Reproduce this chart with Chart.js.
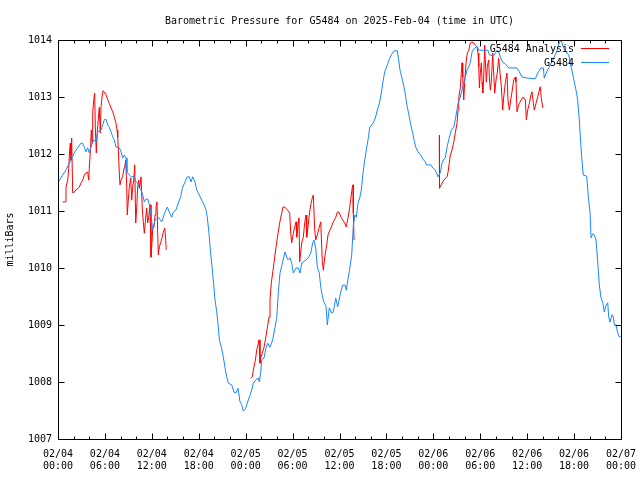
<!DOCTYPE html>
<html><head><meta charset="utf-8">
<script src="https://cdn.jsdelivr.net/npm/chart.js@4.4.1/dist/chart.umd.min.js"></script>
<style>html,body{margin:0;padding:0;background:#fff}#wrap{width:640px;height:480px}</style>
</head><body><div id="wrap"><canvas id="c" width="640" height="480"></canvas></div>
<script>
const chartTitle = 'Barometric Pressure for G5484 on 2025-Feb-04 (time in UTC)';
const yAxisTitle = 'milliBars';
const seriesNames = ['G5484 Analysis', 'G5484'];
const xTickLabels = [
  ['02/04','00:00'],['02/04','06:00'],['02/04','12:00'],['02/04','18:00'],
  ['02/05','00:00'],['02/05','06:00'],['02/05','12:00'],['02/05','18:00'],
  ['02/06','00:00'],['02/06','06:00'],['02/06','12:00'],['02/06','18:00'],
  ['02/07','00:00']
];
const xMin = 0, xMax = 72, xMajorStep = 6, xMinorStep = 2;
const yMin = 1007, yMax = 1014, yStep = 1;

// hours since 02/04 00:00 UTC ; null value = gap
const analysisHours = [
  0.60,0.93,1.02,1.24,1.37,1.45,1.57,1.66,1.75,1.88,2.08,2.30,2.52,2.72,2.94,3.16,3.36,3.58,3.80,3.93,
  4.00,4.13,4.26,4.35,4.44,4.57,4.69,4.77,4.90,5.03,5.15,5.28,5.41,5.50,5.63,5.76,5.92,6.14,6.36,6.56,
  6.78,7.00,7.20,7.42,7.55,7.64,7.76,7.84,7.93,8.06,8.27,8.40,8.53,8.66,8.79,8.86,8.99,9.12,9.30,9.43,
  9.55,9.68,9.81,9.94,10.07,10.19,10.32,10.45,10.62,10.78,10.91,11.04,11.17,11.34,11.47,11.60,11.77,11.89,12.02,12.11,
  12.28,12.41,12.53,12.66,12.75,12.83,12.96,13.13,13.30,13.47,13.65,13.77,13.85,
  19.00,
  24.64,24.85,24.98,25.16,25.28,25.41,25.58,25.71,25.83,25.92,26.13,26.35,26.56,26.77,26.99,27.11,27.28,27.50,27.71,27.92,
  28.14,28.35,28.56,28.78,28.99,29.33,29.63,29.76,29.89,30.09,30.27,30.44,30.53,30.69,30.82,30.91,31.04,31.17,31.37,31.55,
  31.72,31.81,31.97,32.10,32.32,32.52,32.65,32.83,32.96,33.16,33.38,33.60,33.80,33.93,34.11,34.36,34.53,34.79,34.95,35.21,
  35.52,35.72,35.94,36.23,36.67,36.87,37.09,37.31,37.51,37.64,37.73,37.77,37.86,
  43.00,
  48.76,48.79,49.11,49.33,49.62,49.75,49.88,50.04,50.17,50.39,50.61,50.81,51.03,51.16,51.25,51.45,51.58,51.67,51.76,51.89,
  52.01,52.09,52.22,52.35,52.53,52.73,52.86,53.17,53.37,53.59,53.72,53.81,53.89,54.01,54.14,54.23,54.32,54.44,54.57,54.65,
  54.78,54.90,55.08,55.16,55.29,55.41,55.59,55.72,55.85,56.02,56.18,56.36,56.53,56.70,56.87,57.00,57.21,57.42,57.55,57.72,
  57.90,58.06,58.28,58.49,58.57,58.70,58.83,59.00,59.25,59.47,59.77,59.89,60.07,60.28,60.49,60.62,60.79,60.92,61.13,61.35,
  61.55,61.68,61.81,61.99
];
const analysisValues = [
  1011.16,1011.16,1011.42,1011.54,1011.75,1011.98,1012.19,1011.89,1012.28,1011.32,1011.33,1011.37,1011.39,1011.42,1011.49,1011.54,1011.63,1011.67,1011.68,1011.54,
  1011.75,1012.02,1012.42,1012.19,1012.72,1012.95,1013.07,1012.47,1012.02,1012.42,1012.60,1012.82,1012.37,1012.82,1013.00,1013.11,1013.09,1013.04,1012.95,1012.89,
  1012.81,1012.74,1012.65,1012.54,1012.42,1012.30,1011.93,1011.67,1011.46,1011.54,1011.60,1011.72,1011.77,1011.89,1011.42,1010.93,1011.19,1011.42,1011.58,1011.19,
  1011.42,1011.54,1011.81,1010.79,1011.07,1011.42,1011.54,1011.40,1011.60,1011.05,1010.81,1010.61,1010.81,1011.05,1010.79,1010.88,1011.11,1010.19,1010.44,1010.70,
  1010.72,1010.93,1011.07,1011.16,1010.61,1010.23,1010.37,1010.44,1010.53,1010.63,1010.70,1010.49,1010.32,
  null,
  1008.07,1008.09,1008.21,1008.33,1008.42,1008.56,1008.65,1008.74,1008.33,1008.42,1008.51,1008.61,1008.77,1008.95,1009.14,1009.44,1009.74,1009.96,1010.19,1010.40,
  1010.61,1010.79,1010.93,1011.07,1011.07,1011.02,1010.96,1010.61,1010.44,1010.61,1010.72,1010.81,1010.54,1010.75,1010.88,1010.11,1010.28,1010.44,1010.54,1010.79,
  1010.93,1010.54,1010.72,1010.89,1011.11,1011.23,1011.28,1010.67,1010.49,1010.58,1010.70,1010.81,1010.11,1009.96,1010.19,1010.40,1010.58,1010.67,1010.72,1010.81,
  1010.89,1010.98,1010.98,1010.88,1010.79,1010.72,1010.88,1011.07,1011.28,1011.42,1011.46,1010.96,1010.49,
  null,
  1012.33,1011.40,1011.49,1011.54,1011.58,1011.60,1011.68,1011.84,1011.98,1012.07,1012.21,1012.37,1012.54,1012.77,1012.98,1013.16,1013.42,1013.60,1013.35,1012.95,
  1013.26,1013.42,1013.65,1013.77,1013.82,1013.95,1013.96,1013.95,1013.91,1013.88,1013.77,1013.53,1013.16,1013.42,1013.60,1013.26,1013.07,1013.35,1013.91,1013.65,
  1013.26,1013.53,1013.65,1013.35,1013.12,1013.25,1013.77,1013.42,1013.07,1013.30,1013.42,1013.68,1013.42,1013.18,1012.77,1013.00,1013.25,1013.42,1012.95,1012.77,
  1012.95,1013.09,1013.30,1013.35,1013.26,1012.74,1012.82,1012.89,1012.95,1013.00,1012.95,1012.60,1012.77,1012.89,1013.04,1013.09,1012.89,1012.77,1012.89,1013.00,
  1013.12,1013.18,1012.98,1012.81
];
const stationHours = [
  0.00,0.60,1.02,1.45,1.53,1.88,2.08,2.52,2.94,3.16,3.36,3.58,3.80,4.00,4.22,4.44,4.64,4.86,5.08,5.50,
  5.72,5.92,6.14,6.36,6.56,6.78,7.00,7.20,7.42,7.64,7.84,8.06,8.27,8.48,8.70,8.82,9.12,9.34,9.76,9.98,
  10.19,10.40,10.62,10.83,11.04,11.25,11.47,11.68,11.89,12.11,12.41,12.83,13.26,13.68,13.98,14.23,14.54,14.75,15.09,15.39,
  15.69,15.90,16.24,16.54,16.79,17.01,17.23,17.52,17.74,18.07,18.38,18.67,18.93,19.09,19.31,19.48,19.70,19.86,20.08,20.30,
  20.50,20.63,20.89,21.14,21.36,21.58,21.78,22.22,22.51,22.76,23.02,23.28,23.49,23.70,24.01,24.13,24.56,24.77,24.98,25.32,
  25.62,25.74,25.92,26.05,26.35,26.60,26.82,27.11,27.46,27.75,27.97,28.17,28.39,28.74,29.03,29.25,29.45,29.67,29.89,30.09,
  30.44,30.73,30.95,31.17,31.37,31.72,32.01,32.32,32.57,32.74,32.96,33.16,33.42,33.60,33.85,34.06,34.28,34.44,34.70,35.00,
  35.21,35.52,35.77,36.16,36.41,36.71,36.87,37.13,37.34,37.56,37.77,37.98,38.15,38.37,38.59,38.79,39.01,39.22,39.43,39.65,
  39.86,40.29,40.58,40.84,41.14,41.35,41.60,41.78,42.12,42.42,42.63,42.97,43.39,43.57,43.74,44.00,44.25,44.47,44.67,44.89,
  45.11,45.36,45.53,45.75,46.04,46.39,46.68,46.98,47.10,47.67,47.96,48.25,48.60,48.89,49.11,49.33,49.53,49.75,49.97,50.30,
  50.61,50.81,51.16,51.45,51.67,51.89,52.09,52.31,52.53,52.73,52.95,53.29,53.59,53.81,54.99,55.16,55.72,56.14,56.36,56.57,
  56.87,57.21,57.64,58.70,59.00,59.34,60.11,61.04,61.35,61.77,62.07,62.19,62.50,62.83,63.27,63.69,64.11,64.33,64.62,64.97,
  65.31,65.61,65.90,66.25,66.46,66.67,66.80,66.98,67.18,67.62,67.82,68.04,68.17,68.38,68.59,68.81,69.02,69.23,69.45,69.66,
  69.87,70.09,70.30,70.43,70.60,70.85,71.02,71.15,71.36,71.58,71.79,71.95
];
const stationValues = [
  1011.50,1011.63,1011.72,1011.84,1011.98,1011.95,1012.02,1012.11,1012.19,1012.19,1012.12,1012.04,1012.11,1012.02,1012.12,1012.21,1012.25,1012.21,1012.39,1012.42,
  1012.51,1012.60,1012.61,1012.51,1012.47,1012.39,1012.30,1012.25,1012.12,1012.12,1012.11,1012.04,1011.93,1011.98,1011.93,1011.68,1011.63,1011.60,1011.60,1011.51,
  1011.49,1011.40,1011.37,1011.28,1011.16,1011.21,1011.21,1011.11,1010.93,1010.67,1010.84,1010.89,1010.81,1010.98,1011.07,1010.98,1010.89,1010.98,1011.02,1011.14,
  1011.25,1011.40,1011.51,1011.60,1011.60,1011.51,1011.60,1011.51,1011.37,1011.28,1011.19,1011.11,1011.02,1010.89,1010.61,1010.32,1010.02,1009.79,1009.44,1009.23,
  1008.96,1008.74,1008.61,1008.44,1008.25,1008.09,1007.98,1007.95,1007.82,1007.81,1007.89,1007.65,1007.60,1007.49,1007.54,1007.60,1007.77,1007.86,1007.98,1008.04,
  1008.07,1008.00,1008.16,1008.39,1008.42,1008.60,1008.68,1008.61,1008.74,1008.96,1009.12,1009.56,1009.91,1010.11,1010.28,1010.19,1010.14,1010.18,1010.09,1009.91,
  1010.00,1010.00,1009.91,1010.09,1010.11,1010.14,1010.18,1010.26,1010.44,1010.49,1010.35,1010.02,1009.91,1009.67,1009.47,1009.39,1009.32,1009.00,1009.30,1009.21,
  1009.23,1009.47,1009.32,1009.58,1009.70,1009.70,1009.61,1009.84,1010.02,1010.23,1010.75,1010.93,1010.89,1011.14,1011.23,1011.37,1011.67,1011.89,1012.07,1012.25,
  1012.46,1012.54,1012.63,1012.77,1012.91,1013.07,1013.30,1013.44,1013.56,1013.68,1013.74,1013.81,1013.81,1013.65,1013.47,1013.33,1013.18,1013.00,1012.82,1012.68,
  1012.51,1012.37,1012.25,1012.12,1012.04,1011.98,1011.91,1011.86,1011.81,1011.81,1011.75,1011.72,1011.60,1011.67,1011.84,1011.91,1011.93,1012.12,1012.25,1012.42,
  1012.47,1012.60,1012.89,1013.00,1013.12,1013.26,1013.35,1013.47,1013.53,1013.61,1013.79,1013.86,1013.89,1013.82,1013.82,1013.74,1013.72,1013.82,1013.79,1013.70,
  1013.61,1013.58,1013.51,1013.51,1013.44,1013.35,1013.33,1013.32,1013.42,1013.51,1013.51,1013.33,1013.44,1013.53,1013.65,1013.77,1013.95,1014.00,1013.88,1013.79,
  1013.74,1013.53,1013.35,1013.12,1012.95,1012.60,1012.30,1011.93,1011.63,1011.61,1011.25,1010.98,1010.53,1010.60,1010.58,1010.49,1010.11,1009.70,1009.47,1009.40,
  1009.23,1009.35,1009.39,1009.14,1009.05,1009.18,1009.14,1009.00,1009.00,1008.86,1008.79,1008.80
];

const FONT = '"DejaVu Sans Mono", "Liberation Mono", monospace';
const seriesColors = ['#ff0000', '#1a86ff'];

function pts(hs, vs) { return hs.map((h, i) => ({ x: h, y: vs[i] })); }

const framePlugin = {
  id: 'frame',
  afterDatasetsDraw(chart) {
    const { ctx, chartArea: a, scales: { x, y } } = chart;
    ctx.save();
    ctx.strokeStyle = '#000';
    ctx.lineWidth = 1;
    const L = Math.round(a.left) + 0.5, R = Math.round(a.right) + 0.5;
    const T = Math.round(a.top) + 0.5, B = Math.round(a.bottom) + 0.5;
    ctx.beginPath();
    for (let h = xMin; h <= xMax; h += xMinorStep) {
      const px = Math.round(x.getPixelForValue(h)) + 0.5;
      const len = (h % xMajorStep === 0) ? 6 : 3;
      ctx.moveTo(px, B); ctx.lineTo(px, B - len);
      ctx.moveTo(px, T); ctx.lineTo(px, T + len);
    }
    y.ticks.forEach(t => {
      const py = Math.round(y.getPixelForValue(t.value)) + 0.5;
      ctx.moveTo(L, py); ctx.lineTo(L + 6, py);
      ctx.moveTo(R, py); ctx.lineTo(R - 6, py);
    });
    ctx.stroke();
    ctx.strokeRect(L, T, R - L, B - T);
    // legend
    ctx.font = '10px ' + FONT;
    ctx.textAlign = 'right';
    ctx.textBaseline = 'middle';
    chart.data.datasets.forEach((ds, i) => {
      const yy = Math.round(a.top) + 9 + i * 14;
      ctx.fillStyle = '#000';
      ctx.fillText(ds.label, a.right - 47, yy);
      ctx.strokeStyle = ds.borderColor;
      ctx.beginPath();
      ctx.moveTo(a.right - 40, yy - 0.5); ctx.lineTo(a.right - 12, yy - 0.5);
      ctx.stroke();
    });
    ctx.restore();
  }
};

new Chart(document.getElementById('c'), {
  type: 'line',
  data: {
    datasets: [
      { label: seriesNames[0], data: pts(analysisHours, analysisValues), borderColor: seriesColors[0],
        borderWidth: 1, pointRadius: 0, tension: 0, spanGaps: false, fill: false, order: 1 },
      { label: seriesNames[1], data: pts(stationHours, stationValues), borderColor: seriesColors[1],
        borderWidth: 1, pointRadius: 0, tension: 0, spanGaps: false, fill: false, order: 0 }
    ]
  },
  options: {
    responsive: false, animation: false, devicePixelRatio: 1,
    parsing: false, normalized: true,
    layout: { padding: { top: 0, right: 19, bottom: 0, left: 0 } },
    plugins: {
      legend: { display: false },
      tooltip: { enabled: false },
      title: { display: true, text: chartTitle, fullSize: false, color: '#000',
        font: { family: FONT, size: 10, weight: 'normal' }, padding: { top: 15, bottom: 13 } }
    },
    scales: {
      x: {
        type: 'linear', min: xMin, max: xMax,
        grid: { display: false, drawTicks: false }, border: { display: false },
        ticks: { stepSize: xMajorStep, autoSkip: false, maxRotation: 0, padding: 9, color: '#000',
          font: { family: FONT, size: 10 },
          callback: (v) => xTickLabels[Math.round((v - xMin) / xMajorStep)] },
        afterFit: (s) => { s.height = 41; s.paddingLeft = 0; s.paddingRight = 0; }
      },
      y: {
        min: yMin, max: yMax,
        grid: { display: false, drawTicks: false }, border: { display: false },
        ticks: { stepSize: yStep, padding: 6, color: '#000', font: { family: FONT, size: 10 },
          callback: (v) => String(v) },
        title: { display: true, text: yAxisTitle, color: '#000', font: { family: FONT, size: 10 },
          padding: { top: 4, bottom: 0 } },
        afterFit: (s) => { s.width = 58; s.paddingTop = 0; s.paddingBottom = 0; }
      }
    }
  },
  plugins: [framePlugin]
});
</script>
</body></html>
